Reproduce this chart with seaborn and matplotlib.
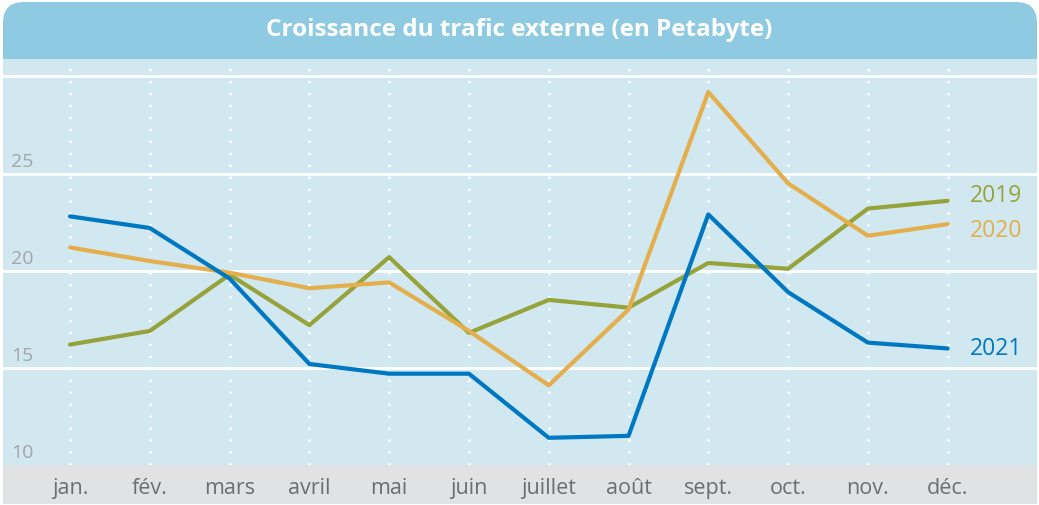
import matplotlib
matplotlib.use("Agg")
import matplotlib.pyplot as plt
from matplotlib.patches import FancyBboxPatch, Rectangle
import seaborn as sns
import pandas as pd

# Data
months = ["jan.", "fév.", "mars", "avril", "mai", "juin",
          "juillet", "août", "sept.", "oct.", "nov.", "déc."]
v2019 = [16.2, 16.9, 19.8, 17.2, 20.7, 16.8, 18.5, 18.1, 20.4, 20.1, 23.2, 23.6]
v2020 = [21.2, 20.5, 19.9, 19.1, 19.4, 16.9, 14.1, 18.0, 29.2, 24.5, 21.8, 22.4]
v2021 = [22.8, 22.2, 19.6, 15.2, 14.7, 14.7, 11.4, 11.5, 22.9, 18.9, 16.3, 16.0]
years = ["2019", "2020", "2021"]
yticks = [10, 15, 20, 25]
colors = {"2019": "#96A23A", "2020": "#E3AE4B", "2021": "#0077C1"}

rows = []
for yr, vals in zip(years, [v2019, v2020, v2021]):
    for i, v in enumerate(vals):
        rows.append({"idx": i, "val": v, "year": yr})
df = pd.DataFrame(rows)

sns.set_style("white")
plt.rcParams['font.family'] = ['Open Sans', 'DejaVu Sans']

W, H = 1039, 506
fig = plt.figure(figsize=(W / 100, H / 100), dpi=100)
fig.patch.set_facecolor("white")

# figure pixel coords -> fraction
def fx(x): return x / W
def fy(y): return 1 - y / H

# title bar: rounded top, square bottom
fig.patches.append(FancyBboxPatch((fx(3), fy(60)), fx(1034), (60 - 3) / H,
                                  boxstyle="round,pad=0,rounding_size=0.02",
                                  transform=fig.transFigure, facecolor="#8ECBE3",
                                  edgecolor="none", mutation_aspect=W / H, zorder=-2))
fig.patches.append(Rectangle((fx(3), fy(60)), fx(1034), 30 / H,
                             transform=fig.transFigure, facecolor="#8ECBE3",
                             edgecolor="none", zorder=-2))
# bottom band behind month labels
fig.patches.append(Rectangle((fx(3), fy(505)), fx(1034), (505 - 466) / H,
                             transform=fig.transFigure, facecolor="#E1E2E4",
                             edgecolor="none", zorder=-2))
fig.text(0.5, fy(30), "Croissance du trafic externe (en Petabyte)",
         ha="center", va="center", color="white", fontsize=17.5, fontweight="bold")

ax = fig.add_axes([fx(3), fy(466), fx(1034), (466 - 60) / H])
ax.set_facecolor("#D1E8F1")

for i in range(len(months)):
    ax.axvline(i, color="white", lw=2, linestyle=(0, (0.8, 3.5)), zorder=1)
for v in [15, 20, 25, 30]:
    ax.axhline(v, color="white", lw=2, zorder=1)

sns.lineplot(data=df, x="idx", y="val", hue="year", palette=colors,
             linewidth=3, legend=False, ax=ax, zorder=3)

ax.set_xlim(-0.84, 12.12)
ax.set_ylim(10, 30.9)
ax.set_xticks(range(len(months)))
ax.set_xticklabels(months, fontsize=15.5, color="#6D6E70")
ax.tick_params(axis="x", length=0, pad=9)
ax.set_yticks([])
ax.set_xlabel("")
ax.set_ylabel("")
for s in ax.spines.values():
    s.set_visible(False)

for v in yticks:
    ax.text(-0.74, v + 0.2, str(v), fontsize=14, color="#A3A5A8",
            ha="left", va="bottom")

label_y = {"2019": 23.9, "2020": 22.1, "2021": 16.0}
for yr in years:
    ax.text(11.28, label_y[yr], yr, fontsize=16.5, color=colors[yr],
            ha="left", va="center")

fig.savefig("out.png", dpi=100, facecolor="white")
